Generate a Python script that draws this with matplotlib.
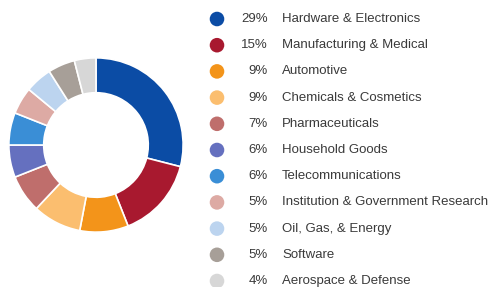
import matplotlib.pyplot as plt
import numpy as np

labels = ['Hardware & Electronics', 'Manufacturing & Medical', 'Automotive',
          'Chemicals & Cosmetics', 'Pharmaceuticals', 'Household Goods',
          'Telecommunications', 'Institution & Government Research',
          'Oil, Gas, & Energy', 'Software', 'Aerospace & Defense']
shares = [29, 15, 9, 9, 7, 6, 6, 5, 5, 5, 4]
colors = ['#0B4CA5', '#A8192F', '#F3941A', '#FBBE6F', '#BF6E6C', '#6570BF',
          '#3A8ED6', '#DDAAA4', '#BCD4EF', '#A79F98', '#D7D7D7']

plt.rcParams['font.family'] = ['Liberation Sans Narrow', 'Liberation Sans', 'DejaVu Sans']

W, H = 495, 287
fig = plt.figure(figsize=(W / 100, H / 100), dpi=100)

# donut, clockwise from the top
ax = fig.add_axes([8 / W, (H - 233) / H, 176 / W, 176 / H])
ax.pie(shares, colors=colors, startangle=90, counterclock=False,
       wedgeprops=dict(width=0.4, edgecolor='white', linewidth=1.2))
ax.set_xlim(-1.01, 1.01)
ax.set_ylim(-1.01, 1.01)
ax.set_aspect('equal')

# legend drawn on a pixel-sized axes
lg = fig.add_axes([0, 0, 1, 1])
lg.set_xlim(0, W)
lg.set_ylim(H, 0)
lg.axis('off')
rows = 19 + np.arange(len(labels)) * 26.2
lg.scatter(np.full(len(labels), 217), rows, s=110, c=colors, linewidths=0)
for y, s, lab in zip(rows, shares, labels):
    lg.text(268, y, f'{s}%', ha='right', va='center', fontsize=9.5, color='#3a3a3a')
    lg.text(282, y, lab, ha='left', va='center', fontsize=9.5, color='#3a3a3a')

fig.savefig('out.png', dpi=100)
